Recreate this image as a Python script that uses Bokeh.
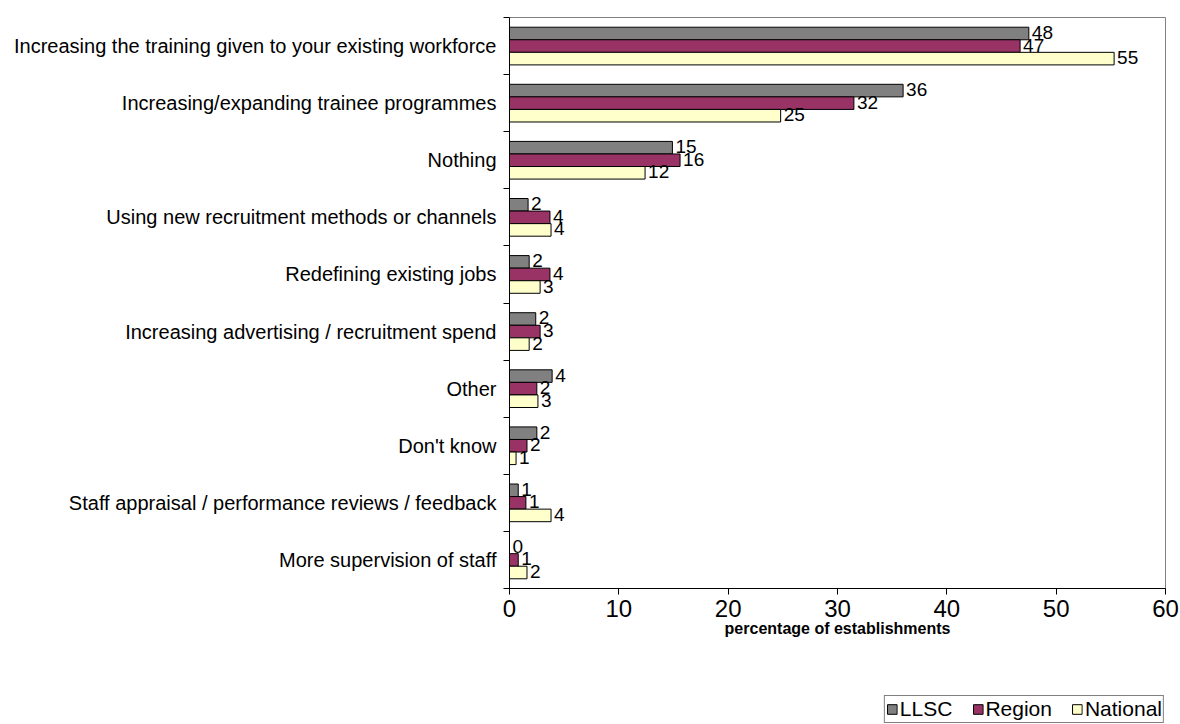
from bokeh.plotting import figure
from bokeh.models import Range1d, FixedTicker, Legend, LegendItem, ColumnDataSource
from bokeh.layouts import column
from bokeh.embed import file_html
from bokeh.resources import INLINE
from bokeh.core.properties import value

categories = [
    "Increasing the training given to your existing workforce",
    "Increasing/expanding trainee programmes",
    "Nothing",
    "Using new recruitment methods or channels",
    "Redefining existing jobs",
    "Increasing advertising / recruitment spend",
    "Other",
    "Don't know",
    "Staff appraisal / performance reviews / feedback",
    "More supervision of staff",
]
series_names = ["LLSC", "Region", "National"]
llsc = [47.5, 36.0, 14.9, 1.7, 1.8, 2.4, 3.9, 2.5, 0.8, 0.0]
region = [46.7, 31.5, 15.6, 3.7, 3.7, 2.8, 2.5, 1.6, 1.5, 0.8]
national = [55.3, 24.8, 12.4, 3.8, 2.8, 1.8, 2.6, 0.6, 3.8, 1.6]
llsc_labels = ["48", "36", "15", "2", "2", "2", "4", "2", "1", "0"]
region_labels = ["47", "32", "16", "4", "4", "3", "2", "2", "1", "1"]
national_labels = ["55", "25", "12", "4", "3", "2", "3", "1", "4", "2"]
x_ticks = [0, 10, 20, 30, 40, 50, 60]

colors = ["#808080", "#993366", "#FFFFCC"]
FONT = "Liberation Sans"

n = len(categories)
centers = [2 * i + 1 for i in range(n)]
bounds = [2 * i for i in range(n + 1)]

p = figure(width=1180, height=694, output_backend="svg", toolbar_location=None,
           x_range=Range1d(0, 60), y_range=Range1d(2 * n, 0),
           min_border_left=509, min_border_right=15, min_border_top=17, min_border_bottom=106,
           frame_width=656, frame_height=571)
p.background_fill_color = "white"
p.border_fill_color = "white"
p.outline_line_color = "#808080"
p.outline_line_width = 1
p.grid.visible = False

bar_h = 0.44
offsets = [-bar_h, 0.0, bar_h]
all_vals = [llsc, region, national]
all_labels = [llsc_labels, region_labels, national_labels]
for k in range(3):
    ys = [c + offsets[k] for c in centers]
    src = ColumnDataSource(dict(y=ys, right=all_vals[k], lab=all_labels[k]))
    p.hbar(y="y", left=0, right="right", height=bar_h, source=src,
           fill_color=colors[k], line_color="black", line_width=1)
    p.text(x="right", y="y", text="lab", source=src, x_offset=3, y_offset=-1,
           text_font=value(FONT), text_font_size="19px", text_baseline="middle",
           text_align="left", text_color="black")

# x axis
xa = p.xaxis[0]
xa.ticker = FixedTicker(ticks=x_ticks)
xa.axis_line_color = "black"
xa.major_tick_line_color = "black"
xa.major_tick_out = 6
xa.major_tick_in = 0
xa.minor_tick_line_color = None
xa.major_label_text_font = FONT
xa.major_label_text_font_size = "24px"
xa.major_label_text_color = "black"
xa.major_label_standoff = 5
xa.axis_label = "percentage of establishments"
xa.axis_label_text_font = FONT
xa.axis_label_text_font_size = "16px"
xa.axis_label_text_font_style = "bold"
xa.axis_label_text_color = "black"
xa.axis_label_standoff = 0

# y axis
ya = p.yaxis[0]
ya.ticker = FixedTicker(ticks=centers, minor_ticks=bounds)
ya.major_label_overrides = {c: categories[i] for i, c in enumerate(centers)}
ya.axis_line_color = "black"
ya.major_tick_line_color = None
ya.major_tick_out = 0
ya.major_tick_in = 0
ya.minor_tick_line_color = "black"
ya.minor_tick_out = 6
ya.minor_tick_in = 0
ya.major_label_text_font = FONT
ya.major_label_text_font_size = "20px"
ya.major_label_text_color = "black"
ya.major_label_standoff = 7

# legend strip below the chart (legend-only renderers sit outside the strip's visible range)
lf = figure(width=1180, height=30, output_backend="svg", toolbar_location=None, title=None,
            x_range=Range1d(0, 1), y_range=Range1d(0, 1),
            min_border=0, min_border_left=0, min_border_right=0,
            min_border_top=0, min_border_bottom=0)
lf.axis.visible = False
lf.grid.visible = False
lf.outline_line_color = None
lf.background_fill_color = "white"
lf.border_fill_color = "white"
leg_rs = []
for k in range(3):
    r = lf.hbar(y=[-5], left=[0], right=[0], height=0.1, fill_color=colors[k],
                line_color="black", line_width=1)
    leg_rs.append(r)
legend = Legend(items=[LegendItem(label=series_names[k], renderers=[leg_rs[k]]) for k in range(3)],
                orientation="horizontal", location="bottom_right",
                label_text_font=FONT, label_text_font_size="21px", label_text_color="black",
                glyph_width=12, glyph_height=12, label_standoff=2, spacing=19,
                padding=1, margin=1, border_line_color="black", border_line_width=1,
                background_fill_color="white", label_height=18)
lf.add_layout(legend)

layout = column(p, lf, spacing=0)
open("out.html", "w").write(file_html(layout, INLINE))
